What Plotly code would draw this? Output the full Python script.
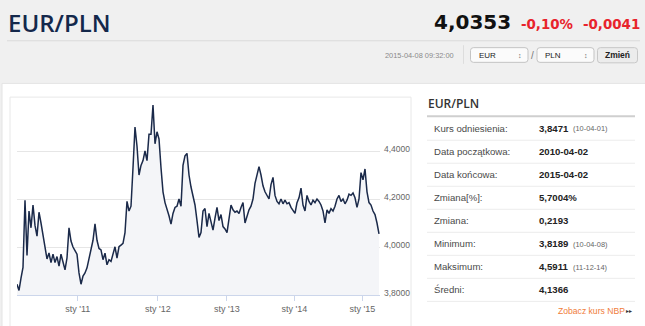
import plotly.graph_objects as go

# ---------------- data ----------------
pair_name = "EUR/PLN"
last_rate = "4,0353"
change_pct = "-0,10%"
change_abs = "-0,0041"
quote_time = "2015-04-08 09:32:00"

# EUR/PLN rate, one value per point of the (ordinal) time axis, 2010-04-02 .. 2015-04-02
rate_2010 = [3.845, 3.819, 3.870, 3.915, 4.195, 3.965, 4.150, 4.080, 4.175, 4.090,
             4.045, 4.145, 4.100, 4.050, 3.995, 3.950, 3.975, 3.935, 3.970, 3.935,
             3.960, 3.920, 3.970, 3.930, 3.905, 3.955, 4.080, 4.025, 4.000, 3.985,
             3.970]
rate_2011 = [3.892, 3.845, 3.879, 3.892, 3.913, 3.947, 3.981, 4.028, 4.096, 4.028,
             3.994, 3.988, 3.947, 3.974, 3.926, 3.947, 3.940, 3.974, 4.001, 3.954,
             4.001, 4.008, 4.015, 4.060, 4.190, 4.150, 4.170, 4.330, 4.500, 4.420,
             4.300, 4.340, 4.360, 4.400, 4.360, 4.470, 4.470, 4.5911, 4.430, 4.480]
rate_2012 = [4.450, 4.330, 4.230, 4.185, 4.160, 4.130, 4.095, 4.140, 4.165, 4.170,
             4.200, 4.170, 4.340, 4.380, 4.390, 4.300, 4.250, 4.215, 4.175, 4.110,
             4.040, 4.060, 4.150, 4.160, 4.085, 4.140, 4.100, 4.070, 4.120, 4.165,
             4.110, 4.135, 4.085, 4.075]
rate_2013 = [4.060, 4.120, 4.175, 4.155, 4.145, 4.150, 4.140, 4.165, 4.185, 4.100,
             4.130, 4.155, 4.170, 4.200, 4.265, 4.300, 4.335, 4.300, 4.255, 4.230,
             4.215, 4.200, 4.260, 4.290, 4.215, 4.190, 4.180, 4.200, 4.180, 4.195,
             4.180, 4.185, 4.165, 4.150]
rate_2014 = [4.140, 4.185, 4.205, 4.245, 4.175, 4.150, 4.215, 4.190, 4.175, 4.195,
             4.185, 4.200, 4.190, 4.175, 4.150, 4.100, 4.155, 4.140, 4.160, 4.150,
             4.170, 4.200, 4.215, 4.190, 4.200, 4.180, 4.195, 4.220, 4.215, 4.225,
             4.205, 4.165, 4.200, 4.310]
rate_2015 = [4.280, 4.325, 4.230, 4.185, 4.175, 4.150, 4.135, 4.100, 4.055]
rates = rate_2010 + rate_2011 + rate_2012 + rate_2013 + rate_2014 + rate_2015

# position of each year's first session on the ordinal axis
year_tick_idx = [30.4, 70.4, 104.9, 138.7, 172.7]
year_tick_txt = ["sty '11", "sty '12", "sty '13", "sty '14", "sty '15"]

y_tick_vals = [3.8, 4.0, 4.2, 4.4, 4.6]
y_tick_txt = ["3,8000", "4,0000", "4,2000", "4,4000", ""]

# summary table
row_labels = ["Kurs odniesienia:", "Data początkowa:", "Data końcowa:", "Zmiana[%]:",
              "Zmiana:", "Minimum:", "Maksimum:", "Średni:"]
row_values = ["3,8471", "2010-04-02", "2015-04-02", "5,7004%", "0,2193",
              "3,8189", "4,5911", "4,1366"]
row_notes = ["(10-04-01)", "", "", "", "", "(10-04-08)", "(11-12-14)", ""]

# ---------------- page geometry (pixels) ----------------
W, H = 645, 326
PL, PR, PT, PB = 17, 380, 103, 299   # plot area


def fx(x):
    return (x - PL) / (PR - PL)


def fy(y):
    return (PB - y) / (PB - PT)


shapes = []
annotations = []


def rect(x0, y0, x1, y1, fill=None, line=None, lw=1, layer="below"):
    shapes.append(dict(type="rect", xref="paper", yref="paper",
                       x0=fx(x0), x1=fx(x1), y0=fy(y1), y1=fy(y0),
                       fillcolor=fill or "rgba(0,0,0,0)",
                       line=dict(color=line or "rgba(0,0,0,0)", width=lw if line else 0),
                       layer=layer))


def hline(x0, x1, y, color, lw=1, layer="below"):
    shapes.append(dict(type="line", xref="paper", yref="paper",
                       x0=fx(x0), x1=fx(x1), y0=fy(y), y1=fy(y),
                       line=dict(color=color, width=lw), layer=layer))


def vline(x, y0, y1, color, lw=1, layer="below"):
    shapes.append(dict(type="line", xref="paper", yref="paper",
                       x0=fx(x), x1=fx(x), y0=fy(y0), y1=fy(y1),
                       line=dict(color=color, width=lw), layer=layer))


def rrect(x0, y0, x1, y1, r, fill, line):
    pts = [("M", x0 + r, y0), ("L", x1 - r, y0), ("Q", x1, y0, x1, y0 + r),
           ("L", x1, y1 - r), ("Q", x1, y1, x1 - r, y1), ("L", x0 + r, y1),
           ("Q", x0, y1, x0, y1 - r), ("L", x0, y0 + r), ("Q", x0, y0, x0 + r, y0)]
    path = ""
    for p in pts:
        cmd, coords = p[0], p[1:]
        xy = []
        for i in range(0, len(coords), 2):
            xy.append(f"{fx(coords[i]):.5f},{fy(coords[i + 1]):.5f}")
        path += cmd + " ".join(xy) + " "
    shapes.append(dict(type="path", xref="paper", yref="paper", path=path + "Z",
                       fillcolor=fill, line=dict(color=line, width=1), layer="below"))


def text(x, y, s, size, color, family="Liberation Sans, Arial, sans-serif",
         xanchor="left", weight="normal"):
    annotations.append(dict(xref="paper", yref="paper", x=fx(x), y=fy(y), text=s,
                            showarrow=False, xanchor=xanchor, yanchor="middle",
                            font=dict(size=size, color=color, family=family, weight=weight)))


# ---------------- header ----------------
hline(7, 640, 39.5, "#dadada")
text(6, 21, pair_name, 24, "#14284b", family="Open Sans, sans-serif", weight=600)
text(432, 20.5, last_rate, 20, "#111111", family="DejaVu Sans, sans-serif", weight="bold")
text(519, 23, change_pct, 13.4, "#e8232b", family="DejaVu Sans, sans-serif", weight="bold")
text(581, 23, change_abs, 13.4, "#e8232b", family="DejaVu Sans, sans-serif", weight="bold")

text(456, 54, quote_time, 7.4, "#8a8a8a", xanchor="right")
vline(463.5, 44, 63, "#dddddd")
for (bx0, bx1, cur) in [(470.5, 528, "EUR"), (537, 594, "PLN")]:
    rrect(bx0, 46.5, bx1, 61.5, 3, "#fbfbfb", "#c4c4c4")
    text(bx0 + 6, 54, cur, 8, "#222222")
    text(bx1 - 8, 54, "↕", 7, "#666666", xanchor="center")
text(532, 54, "/", 10, "#777777", xanchor="center")
rrect(597.5, 46.5, 637.5, 62, 3, "#ececec", "#c8c8c8")
text(617.5, 54.5, "<b>Zmień</b>", 8.5, "#222222", xanchor="center")

# ---------------- panels ----------------
rect(2, 83, 650, 340, fill="#ffffff", line="#e4e4e4")
rect(10, 97, 411, 340, fill="#ffffff", line="#e8e8e8")

# ---------------- summary table ----------------
text(426, 104, pair_name, 12, "#333333", family="Open Sans, sans-serif", weight=600)
hline(427, 635, 116.5, "#cfcfcf", lw=2)
row_y0, row_step = 129, 23.5
for i, (lab, val, note) in enumerate(zip(row_labels, row_values, row_notes)):
    y = row_y0 + i * row_step
    text(432, y, lab, 9.6, "#4a4a4a")
    text(537, y, f"<b>{val}</b>", 9.6, "#222222")
    if note:
        text(571, y + 0.5, note, 7.4, "#666666")
    hline(427, 635, y + 12, "#ececec")
text(627, 315, "Zobacz kurs NBP", 8.6, "#f07c3a", xanchor="right")
text(634, 315, "▸▸", 6, "#333333", xanchor="right")

# ---------------- chart ----------------
fig = go.Figure()
fig.add_trace(go.Scatter(
    x=list(range(len(rates))), y=rates, mode="lines",
    line=dict(color="#1b2a4a", width=1.5),
    fill="tozeroy", fillcolor="#f4f5f8",
    hoverinfo="skip", showlegend=False))

fig.update_layout(
    width=W, height=H,
    margin=dict(l=PL, r=W - PR, t=PT, b=H - PB, pad=0),
    paper_bgcolor="#f0f0f0", plot_bgcolor="rgba(0,0,0,0)",
    shapes=shapes, annotations=annotations,
    xaxis=dict(range=[0, 181.5], tickvals=year_tick_idx, ticktext=year_tick_txt,
               showgrid=False, zeroline=False, showline=True, linecolor="#ccd6eb",
               linewidth=1, ticks="outside", ticklen=5, tickcolor="#ccd6eb",
               tickfont=dict(size=9, color="#666666",
                             family="Liberation Sans, Arial, sans-serif")),
    yaxis=dict(range=[3.8, 4.6], side="right", tickvals=y_tick_vals, ticktext=y_tick_txt,
               showgrid=True, gridcolor="#e6e6e6", gridwidth=1, zeroline=False,
               showline=False, ticks="", ticklabelshift=-2, ticklabelstandoff=3,
               tickfont=dict(size=8.5, color="#666666",
                             family="Liberation Sans, Arial, sans-serif")),
)

fig.write_html("out.html")
